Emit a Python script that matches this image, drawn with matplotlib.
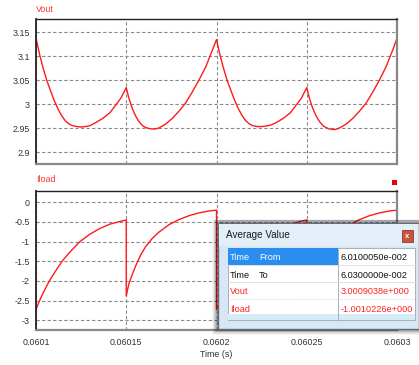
import matplotlib
matplotlib.use("Agg")
import matplotlib.pyplot as plt
from matplotlib.patches import Rectangle
from matplotlib.lines import Line2D

plt.rcParams['font.family'] = ['Liberation Sans', 'DejaVu Sans']

# ---------------- data ----------------
vout_t = [0.0601000, 0.0601020, 0.0601040, 0.0601060, 0.0601080, 0.0601100, 0.0601120,
          0.0601140, 0.0601160, 0.0601180, 0.0601200, 0.0601225, 0.0601250, 0.0601275,
          0.0601300, 0.0601330, 0.0601370, 0.0601410, 0.0601440, 0.0601470, 0.0601500,
          0.0601515, 0.0601533, 0.0601552, 0.0601566, 0.0601580, 0.0601593, 0.0601607,
          0.0601625, 0.0601644, 0.0601660, 0.0601681, 0.0601718, 0.0601755, 0.0601792,
          0.0601829, 0.0601866, 0.0601903, 0.0601940, 0.0601977, 0.0602000,
          0.0602020, 0.0602040, 0.0602060, 0.0602080, 0.0602100, 0.0602120,
          0.0602140, 0.0602160, 0.0602180, 0.0602200, 0.0602225, 0.0602250, 0.0602275,
          0.0602300, 0.0602330, 0.0602370, 0.0602410, 0.0602440, 0.0602470, 0.0602500,
          0.0602515, 0.0602533, 0.0602552, 0.0602566, 0.0602580, 0.0602593, 0.0602607,
          0.0602625, 0.0602644, 0.0602660, 0.0602681, 0.0602718, 0.0602755, 0.0602792,
          0.0602829, 0.0602866, 0.0602903, 0.0602940, 0.0602977, 0.0603000]
vout_v = [3.138, 3.104, 3.075, 3.050, 3.029, 3.009, 2.992,
          2.978, 2.967, 2.960, 2.956, 2.954, 2.953, 2.954,
          2.956, 2.962, 2.971, 2.983, 2.998, 3.013, 3.035,
          3.0125, 2.992, 2.976, 2.967, 2.960, 2.955, 2.952,
          2.950, 2.949, 2.949, 2.951, 2.959, 2.971, 2.986,
          3.003, 3.026, 3.051, 3.078, 3.113, 3.135,
          3.102, 3.074, 3.049, 3.029, 3.009, 2.992,
          2.978, 2.967, 2.960, 2.956, 2.954, 2.954, 2.955,
          2.957, 2.962, 2.971, 2.983, 2.998, 3.013, 3.035,
          3.0125, 2.992, 2.976, 2.967, 2.960, 2.955, 2.952,
          2.949, 2.948, 2.948, 2.951, 2.959, 2.971, 2.986,
          3.003, 3.026, 3.051, 3.079, 3.114, 3.138]

iload_t = [0.0601000, 0.0601018, 0.0601037, 0.0601074, 0.0601111, 0.0601148, 0.0601185,
           0.0601241, 0.0601296, 0.0601352, 0.0601407, 0.0601463, 0.0601500, 0.0601500,
           0.0601508, 0.0601515, 0.0601533, 0.0601552, 0.0601579, 0.0601607, 0.0601644,
           0.0601681, 0.0601737, 0.0601792, 0.0601848, 0.0601903, 0.0601959, 0.0602000,
           0.0602000, 0.0602018, 0.0602037, 0.0602074, 0.0602111, 0.0602148, 0.0602185,
           0.0602241, 0.0602296, 0.0602352, 0.0602407, 0.0602463, 0.0602500, 0.0602500,
           0.0602508, 0.0602515, 0.0602533, 0.0602552, 0.0602579, 0.0602607, 0.0602644,
           0.0602681, 0.0602737, 0.0602792, 0.0602848, 0.0602903, 0.0602959, 0.0603000]
iload_v = [-2.73, -2.52, -2.33, -2.00, -1.73, -1.48, -1.28,
           -1.01, -0.82, -0.67, -0.56, -0.49, -0.45, -2.38,
           -2.21, -2.07, -1.84, -1.62, -1.35, -1.13, -0.92,
           -0.76, -0.57, -0.44, -0.34, -0.27, -0.22, -0.20,
           -2.73, -2.52, -2.33, -2.00, -1.73, -1.48, -1.28,
           -1.01, -0.82, -0.67, -0.56, -0.49, -0.45, -2.38,
           -2.21, -2.07, -1.84, -1.62, -1.35, -1.13, -0.92,
           -0.76, -0.57, -0.44, -0.34, -0.27, -0.22, -0.20]

x_ticks = [0.0601, 0.06015, 0.0602, 0.06025, 0.0603]
x_tick_labels = ["0.0601", "0.06015", "0.0602", "0.06025", "0.0603"]
vout_ticks = [2.9, 2.95, 3.0, 3.05, 3.1, 3.15]
vout_tick_labels = ["2.9", "2.95", "3", "3.05", "3.1", "3.15"]
iload_ticks = [-3, -2.5, -2, -1.5, -1, -0.5, 0]
iload_tick_labels = ["-3", "-2.5", "-2", "-1.5", "-1", "-0.5", "0"]

avg_rows = ["Time    From", "Time    To", "Vout", "Iload"]
avg_values = ["6.0100050e-002", "6.0300000e-002", "3.0009038e+000", "-1.0010226e+000"]

# ---------------- figure ----------------
W, H = 419, 365
fig = plt.figure(figsize=(W / 100, H / 100), dpi=100)
fig.patch.set_facecolor("white")


def fx(x):
    return x / W


def fy(y):
    return 1 - y / H


def box(x0, y0, x1, y1):
    return [fx(x0), fy(y1), fx(x1) - fx(x0), fy(y0) - fy(y1)]


ax1 = fig.add_axes(box(36, 19, 397, 164))
ax2 = fig.add_axes(box(36, 190.7, 397, 330))

RED = "#ff1a1a"
for ax, ticks, labels, ylim in [(ax1, vout_ticks, vout_tick_labels, (2.876, 3.178)),
                                (ax2, iload_ticks, iload_tick_labels, (-3.25, 0.295))]:
    ax.set_xlim(0.0601, 0.0603)
    ax.set_ylim(*ylim)
    ax.set_yticks(ticks)
    ax.set_yticklabels(labels)
    ax.set_xticks(x_ticks)
    ax.tick_params(length=0, labelsize=6.4, colors="#333333", pad=4.5)
    ax.grid(True, color="#8a8a8a", linestyle=(0, (3, 2)), linewidth=0.8)
    ax.set_axisbelow(True)
    ax.spines["left"].set_color("#222222")
    ax.spines["top"].set_color("#222222")
    ax.spines["left"].set_linewidth(1.3)
    ax.spines["top"].set_linewidth(1.0)
    ax.spines["bottom"].set_color("#888888")
    ax.spines["right"].set_color("#888888")
    ax.spines["bottom"].set_linewidth(1.6)
    ax.spines["right"].set_linewidth(1.6)

ax1.set_xticklabels([])
ax2.set_xticklabels(x_tick_labels)
ax2.tick_params(axis="x", pad=6)

ax1.plot(vout_t, vout_v, color=RED, lw=1.0)
ax2.plot(iload_t, iload_v, color=RED, lw=1.0)

ax2.set_xlabel("Time (s)", fontsize=6.4, color="#333333", labelpad=2)

fig.text(fx(36), fy(9), "Vout", color="#ff3333", fontsize=6.4, va="center", ha="left")
fig.text(fx(36), fy(180), "Iload", color="#ff3333", fontsize=6.4, va="center", ha="left")

# small red marker square
fig.add_artist(Rectangle((fx(392), fy(185)), fx(5), 5 / H, transform=fig.transFigure,
                         facecolor="#ee0000", edgecolor="none", zorder=10))

# ---------------- "Average Value" dialog ----------------
Z = 20
# shadow
for i, a in enumerate([0.04, 0.06, 0.08, 0.10, 0.12]):
    d = 6 - i
    fig.add_artist(Rectangle((fx(218 - d), fy(329 + d)), fx(419) - fx(218 - d),
                             (329 + d - 221 + d * 0.3) / H, transform=fig.transFigure,
                             facecolor="black", edgecolor="none", alpha=a, zorder=Z))
# frame
fig.add_artist(Rectangle((fx(218), fy(329)), fx(419) - fx(218), (329 - 223) / H,
                         transform=fig.transFigure, facecolor="#d9e6f3",
                         edgecolor="#5f6f80", linewidth=1.0, zorder=Z + 1))
# title bar lighter
fig.add_artist(Rectangle((fx(219), fy(246)), fx(418) - fx(219), (246 - 224) / H,
                         transform=fig.transFigure, facecolor="#e4eef8",
                         edgecolor="none", zorder=Z + 2))
fig.text(fx(226), fy(235), "Average Value", fontsize=7.1, color="#1a1a1a",
         va="center", ha="left", zorder=Z + 5)
# close button
fig.add_artist(Rectangle((fx(402), fy(242)), fx(11), 12 / H, transform=fig.transFigure,
                         facecolor="#c9553c", edgecolor="#8a3a2a", linewidth=0.6,
                         zorder=Z + 3))
fig.text(fx(407.5), fy(236), "x", fontsize=5.5, color="white", va="center",
         ha="center", weight="bold", zorder=Z + 5)

# table
fig.add_artist(Rectangle((fx(228), fy(320)), fx(415) - fx(228), (320 - 248) / H,
                         transform=fig.transFigure, facecolor="white",
                         edgecolor="#9aa6b2", linewidth=0.6, zorder=Z + 3))
fig.add_artist(Rectangle((fx(228), fy(320)), fx(415) - fx(228), (320 - 314) / H,
                         transform=fig.transFigure, facecolor="#d6ecf6",
                         edgecolor="none", zorder=Z + 4))
fig.add_artist(Rectangle((fx(228), fy(265)), fx(337.5) - fx(228), (265 - 248) / H,
                         transform=fig.transFigure, facecolor="#2a8df0",
                         edgecolor="none", zorder=Z + 4))
# column divider
fig.add_artist(Line2D([fx(338), fx(338)], [fy(248), fy(320)], transform=fig.transFigure,
                      color="#a8b0b8", lw=0.7, zorder=Z + 5))
for yy, ls in [(265, "-"), (282, "-"), (298.5, (0, (2, 1)))]:
    fig.add_artist(Line2D([fx(228), fx(415)], [fy(yy), fy(yy)], transform=fig.transFigure,
                          color="#d8dde2", lw=0.6, linestyle=ls, zorder=Z + 5))

row_y = [257, 276, 292, 309]
row_colors = ["white", "#111111", "#ff2222", "#ff2222"]
val_colors = ["#111111", "#111111", "#ff2222", "#ff2222"]
for r, y in enumerate(row_y):
    parts = avg_rows[r].split("    ")
    fig.text(fx(230), fy(y), parts[0], fontsize=6.6, color=row_colors[r],
             va="center", ha="left", zorder=Z + 6)
    if len(parts) > 1:
        fig.text(fx(259), fy(y), parts[1], fontsize=6.6, color=row_colors[r],
                 va="center", ha="left", zorder=Z + 6)
    fig.text(fx(340.5), fy(y), avg_values[r], fontsize=6.6, color=val_colors[r],
             va="center", ha="left", zorder=Z + 6)

fig.savefig("out.png", dpi=100, facecolor="white")
